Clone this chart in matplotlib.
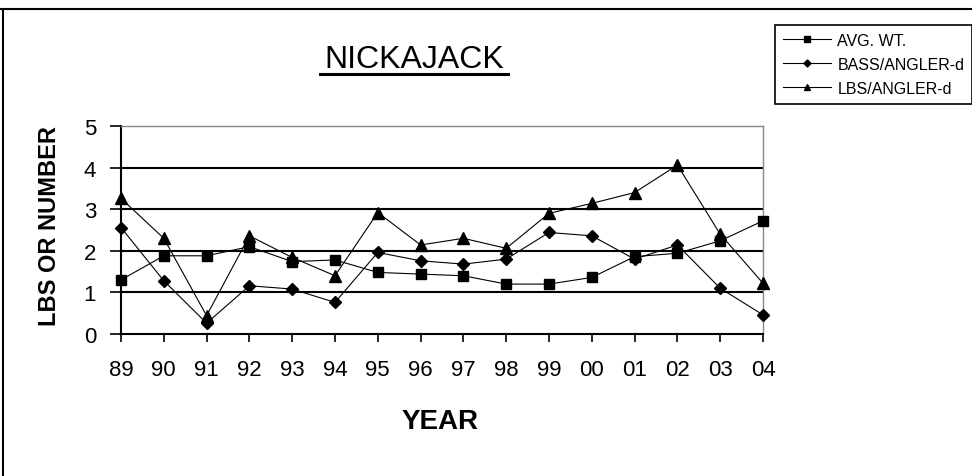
import matplotlib
matplotlib.use("Agg")
import matplotlib.pyplot as plt
from matplotlib.lines import Line2D

plt.rcParams['font.family'] = ['Liberation Sans', 'DejaVu Sans']

# catch summary, Nickajack reservoir
years = ['89', '90', '91', '92', '93', '94', '95', '96', '97', '98',
         '99', '00', '01', '02', '03', '04']
avg_wt = [1.30, 1.88, 1.88, 2.10, 1.74, 1.78, 1.48, 1.44, 1.40, 1.20,
          1.20, 1.36, 1.86, 1.94, 2.24, 2.72]
bass_per_angler = [2.56, 1.28, 0.26, 1.16, 1.08, 0.76, 1.96, 1.76, 1.68, 1.80,
                   2.44, 2.36, 1.80, 2.14, 1.10, 0.46]
lbs_per_angler = [3.26, 2.30, 0.44, 2.36, 1.84, 1.40, 2.92, 2.14, 2.30, 2.06,
                  2.90, 3.14, 3.40, 4.06, 2.40, 1.22]
series_names = ['AVG. WT.', 'BASS/ANGLER-d', 'LBS/ANGLER-d']

W, H = 972, 477
fig = plt.figure(figsize=(W / 100, H / 100), dpi=100)

def fx(px):
    return px / W

def fy(py):
    return 1 - py / H

ax = fig.add_axes([fx(121), fy(335), fx(763) - fx(121), fy(127) - fy(335)])

x = list(range(len(years)))
ax.plot(x, avg_wt, color='black', lw=0.8, marker='s', ms=7.5,
        label=series_names[0], clip_on=False, zorder=3)
ax.plot(x, bass_per_angler, color='black', lw=0.8, marker='D', ms=6.5,
        label=series_names[1], clip_on=False, zorder=3)
ax.plot(x, lbs_per_angler, color='black', lw=0.8, marker='^', ms=8.5,
        label=series_names[2], clip_on=False, zorder=3)

ax.set_xlim(0, len(years) - 1)
ax.set_ylim(0, 5)
ax.set_xticks(x)
ax.set_xticklabels(years)
ax.set_yticks(range(6))

for v in range(1, 5):
    ax.axhline(v, color='black', lw=1.5, zorder=1)

ax.spines['left'].set_linewidth(1.5)
ax.spines['bottom'].set_linewidth(1.5)
ax.spines['top'].set_color('#888888')
ax.spines['top'].set_linestyle((0, (1, 1)))
ax.spines['top'].set_linewidth(1.0)
ax.spines['right'].set_color('#888888')
ax.spines['right'].set_linewidth(1.0)

ax.tick_params(axis='x', direction='out', length=6, width=1.2,
               labelsize=16, pad=12)
ax.tick_params(axis='y', direction='out', length=8, width=1.2,
               labelsize=16, pad=10)

# labels and title
fig.text(fx(50), fy(226), 'LBS OR NUMBER', rotation=90, ha='center',
         va='center', fontsize=17, fontweight='bold')
fig.text(fx(440), fy(422), 'YEAR', ha='center', va='center',
         fontsize=20, fontweight='bold')
fig.text(fx(414), fy(68), 'NICKAJACK', ha='center', va='baseline',
         fontsize=23)
fig.add_artist(Line2D([fx(320), fx(508)], [fy(75), fy(75)],
                      color='black', lw=2.2, transform=fig.transFigure))

# page frame (top and left edges)
fig.add_artist(Line2D([0, 1], [fy(10), fy(10)], color='black', lw=1.5,
                      transform=fig.transFigure))
fig.add_artist(Line2D([fx(3), fx(3)], [0, fy(10)], color='black', lw=1.5,
                      transform=fig.transFigure))

leg = fig.legend(loc='upper left', bbox_to_anchor=(fx(775), fy(26)),
                 fontsize=11.5, frameon=True, fancybox=False,
                 edgecolor='black', framealpha=1, borderaxespad=0,
                 handlelength=3.0, handletextpad=0.4, labelspacing=0.55,
                 borderpad=0.5, markerscale=0.55)
leg.get_frame().set_linewidth(1.2)

fig.savefig('out.png', dpi=100)
